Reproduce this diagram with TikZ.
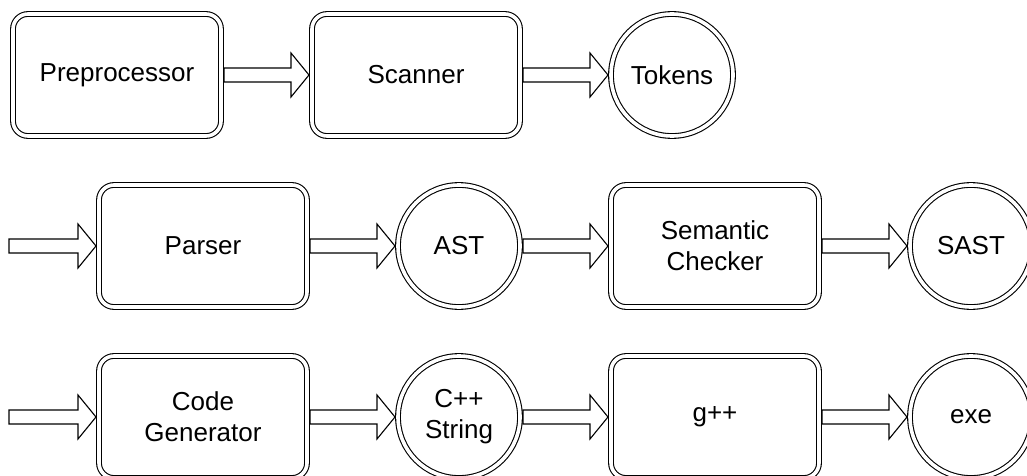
\documentclass[tikz,border=0pt]{standalone}
\usepackage{fontspec}
\setmainfont{Liberation Sans}
\usetikzlibrary{calc,positioning}

\begin{document}
\begin{tikzpicture}[
  x=1pt,y=-1pt,
  node distance=85pt,
  stage/.style={draw,double,line width=1.1pt,double distance=3.6pt,rounded corners=15pt,
    minimum width=208pt,minimum height=122pt,outer sep=3pt,align=center,
    font=\fontsize{26}{31}\selectfont},
  data/.style={draw,double,line width=1.1pt,double distance=3.6pt,circle,
    minimum size=122pt,inner sep=0pt,outer sep=3pt,align=center,
    font=\fontsize{26}{31}\selectfont},
  fat/.style={draw,line width=1.1pt,fill=white,
    to path={let \p1=(\tikztostart), \p2=(\tikztotarget) in
      (\x1,\y1+7pt) -- (\x2-18pt,\y1+7pt) -- (\x2-18pt,\y1+22pt) -- (\x2,\y1)
      -- (\x2-18pt,\y1-22pt) -- (\x2-18pt,\y1-7pt) -- (\x1,\y1-7pt) -- cycle}},
]
  \useasboundingbox (0,0) rectangle (1027,476);

  % Front end
  \node[stage] (pre) at (117,75) {Preprocessor};
  \node[stage,right=of pre] (scan) {Scanner};
  \node[data,right=of scan] (tok) {Tokens};

  % Parsing and checking
  \coordinate (in2) at (9,246);
  \node[stage] (parse) at (203,246) {Parser};
  \node[data,right=of parse] (ast) {AST};
  \node[stage,right=of ast] (sem) {Semantic\\Checker};
  \node[data,right=of sem] (sast) {SAST};

  % Back end
  \coordinate (in3) at (9,417);
  \node[stage] (gen) at (203,417) {Code\\Generator};
  \node[data,right=of gen] (cpp) {C++\\String};
  \node[stage,right=of cpp] (gpp) {g++};
  \node[data,right=of gpp] (exe) {exe};

  % Edges
  \path (pre.east) edge[fat] (scan.west);
  \path (scan.east) edge[fat] (tok.west);

  \path (in2) edge[fat] (parse.west);
  \path (parse.east) edge[fat] (ast.west);
  \path (ast.east) edge[fat] (sem.west);
  \path (sem.east) edge[fat] (sast.west);

  \path (in3) edge[fat] (gen.west);
  \path (gen.east) edge[fat] (cpp.west);
  \path (cpp.east) edge[fat] (gpp.west);
  \path (gpp.east) edge[fat] (exe.west);
\end{tikzpicture}
\end{document}
